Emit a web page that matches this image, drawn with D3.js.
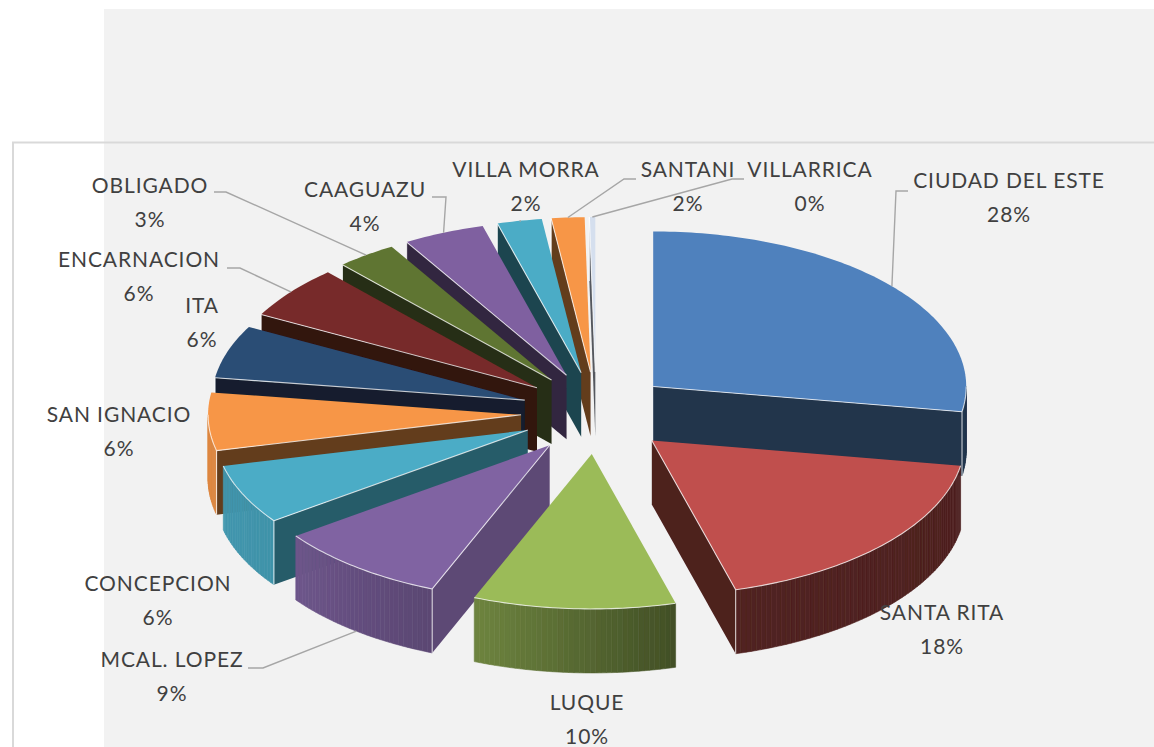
<!DOCTYPE html>
<html>
<head>
<meta charset="utf-8">
<script src="https://cdn.jsdelivr.net/npm/d3@7"></script>
<style>
  html, body { margin: 0; padding: 0; background: #fff; }
  svg { display: block; }
  text { font-family: Lato, "Open Sans", sans-serif; font-size: 21px; fill: #404040; text-anchor: middle; letter-spacing: 0.9px; }
</style>
</head>
<body>
<div id="chart"></div>
<script>
// values
const names = ["CIUDAD DEL ESTE", "SANTA RITA", "LUQUE", "MCAL. LOPEZ", "CONCEPCION", "SAN IGNACIO", "ITA",
  "ENCARNACION", "OBLIGADO", "CAAGUAZU", "VILLA MORRA", "SANTANI", "VILLARRICA"];
const values = [27.5, 18, 10.4, 8.9, 6.2, 6, 5.5, 5.5, 3.1, 4.2, 2.3, 1.7, 0.3];
const colors = ["#4f81bd", "#c0504d", "#9bbb59", "#8064a2", "#4bacc6", "#f79646", "#2c4d75",
  "#772c2a", "#5f7530", "#7f60a0", "#4bacc6", "#f79646", "#d5dfee"];

// where the labels sit (centre x, y of name line, y of percent line)
const labelX = [1009, 942, 587, 172, 158, 119, 202, 139, 150, 365, 526, 688, 810];
const labelY = [181, 613, 703, 660, 584, 415, 306, 260, 186, 190, 170, 170, 170];
const lineGap = 34;

// leader lines: label-side end, then elbow, the third point comes from the slice itself
const leaders = [
  { i: 0, from: [908, 191], elbow: [896, 191] },
  { i: 3, from: [248, 668], elbow: [263, 668] },
  { i: 7, from: [227, 268], elbow: [240, 268] },
  { i: 8, from: [214, 192], elbow: [226, 192] },
  { i: 9, from: [432, 197], elbow: [446, 197] },
  { i: 10, from: [521, 221], elbow: [521, 221] },
  { i: 11, from: [636, 179], elbow: [624, 179] },
  { i: 12, from: [744, 179], elbow: [732, 179] }
];

const width = 1154, height = 747;
const cx = 596, cy = 413;     // centre of the pie before exploding
const rx = 313, ry = 155;     // tilted circle
const explodeX = 75, explodeY = 41;
const depth = 64;

const svg = d3.select("#chart").append("svg").attr("width", width).attr("height", height);

svg.append("rect").attr("x", 104).attr("y", 9).attr("width", width - 104).attr("height", height - 9).attr("fill", "#f2f2f2");
svg.append("path").attr("d", `M13,${height}V142.5H${width}`).attr("fill", "none").attr("stroke", "#d9d9d9").attr("stroke-width", 2);

const defs = svg.append("defs");
defs.append("filter").attr("id", "soft").append("feGaussianBlur").attr("stdDeviation", 0.45);

const pie = d3.pie().sort(null).value(d => d.value);
const slices = pie(values.map((value, i) => ({ value, i })));
const total = d3.sum(values);

const deg = Math.PI / 180;
const rimShade = d3.scaleLinear().domain([90, 164, 201, 233, 270]).range([0.4, 0.42, 0.7, 0.85, 0.9]).clamp(true);
const sideShade = d3.scaleLinear().domain([111, 166]).range([0.73, 0.4]).clamp(true);
const shade = (c, k) => d3.interpolateRgb("#000", c)(k);
const line = d3.line();

slices.forEach(s => {
  const mid = (s.startAngle + s.endAngle) / 2;
  s.ax = cx + Math.sin(mid) * explodeX;
  s.ay = cy - Math.cos(mid) * explodeY;
  s.point = (a, z) => [s.ax + Math.sin(a) * rx, s.ay - Math.cos(a) * ry + (z || 0)];
  s.mid = mid;
});

const arcSteps = (a0, a1) => {
  const n = Math.max(1, Math.ceil((a1 - a0) / deg));
  return d3.range(n + 1).map(k => a0 + (a1 - a0) * k / n);
};

const pieG = svg.append("g").attr("filter", "url(#soft)");

// back to front
slices.slice().sort((a, b) => a.ay - b.ay).forEach(s => {
  const c = colors[s.data.i];
  const g = pieG.append("g");
  const edges = [];
  const side = (a, normal) => {
    const p = s.point(a);
    const q = s.point(a, depth);
    g.append("path")
      .attr("d", line([[s.ax, s.ay], p, q, [s.ax, s.ay + depth]]) + "Z")
      .attr("fill", shade(c, sideShade(normal)));
    edges.push([[s.ax, s.ay], p], [p, q]);
  };
  if (s.startAngle > Math.PI) side(s.startAngle, s.startAngle / deg - 90);
  if (s.endAngle < Math.PI) side(s.endAngle, s.endAngle / deg + 90);

  // outer rim, only the part that faces the front
  const r0 = Math.max(s.startAngle, Math.PI / 2);
  const r1 = Math.min(s.endAngle, Math.PI * 1.5);
  if (r1 > r0) {
    const steps = arcSteps(r0, r1);
    d3.pairs(steps).forEach(([a, b]) => {
      const col = shade(c, rimShade((a + b) / 2 / deg));
      g.append("path")
        .attr("d", line([s.point(a), s.point(b), s.point(b, depth), s.point(a, depth)]) + "Z")
        .attr("fill", col).attr("stroke", col).attr("stroke-width", 0.6);
    });
    edges.push(steps.map(a => s.point(a)));
  }

  // top face
  g.append("path")
    .attr("d", line([[s.ax, s.ay], ...arcSteps(s.startAngle, s.endAngle).map(a => s.point(a))]) + "Z")
    .attr("fill", c);

  // light bevel along the edges that have a wall below
  edges.forEach(e => {
    g.append("path").attr("d", line(e)).attr("fill", "none")
      .attr("stroke", "#fff").attr("stroke-opacity", 0.75).attr("stroke-width", 1.1);
  });
});

// leader lines
leaders.forEach(l => {
  const s = slices[l.i];
  const front = Math.cos(s.mid) < -0.5;
  const end = s.point(s.mid, front ? depth : 0);
  svg.append("path").attr("d", line([l.from, l.elbow, end])).attr("fill", "none")
    .attr("stroke", "#a6a6a6").attr("stroke-width", 1.4);
});

// labels
slices.forEach((s, i) => {
  svg.append("text").attr("x", labelX[i]).attr("y", labelY[i]).attr("dy", "0.35em").text(names[i]);
  svg.append("text").attr("x", labelX[i]).attr("y", labelY[i] + lineGap).attr("dy", "0.35em")
    .text(Math.round(s.data.value / total * 100) + "%");
});
</script>
</body>
</html>
